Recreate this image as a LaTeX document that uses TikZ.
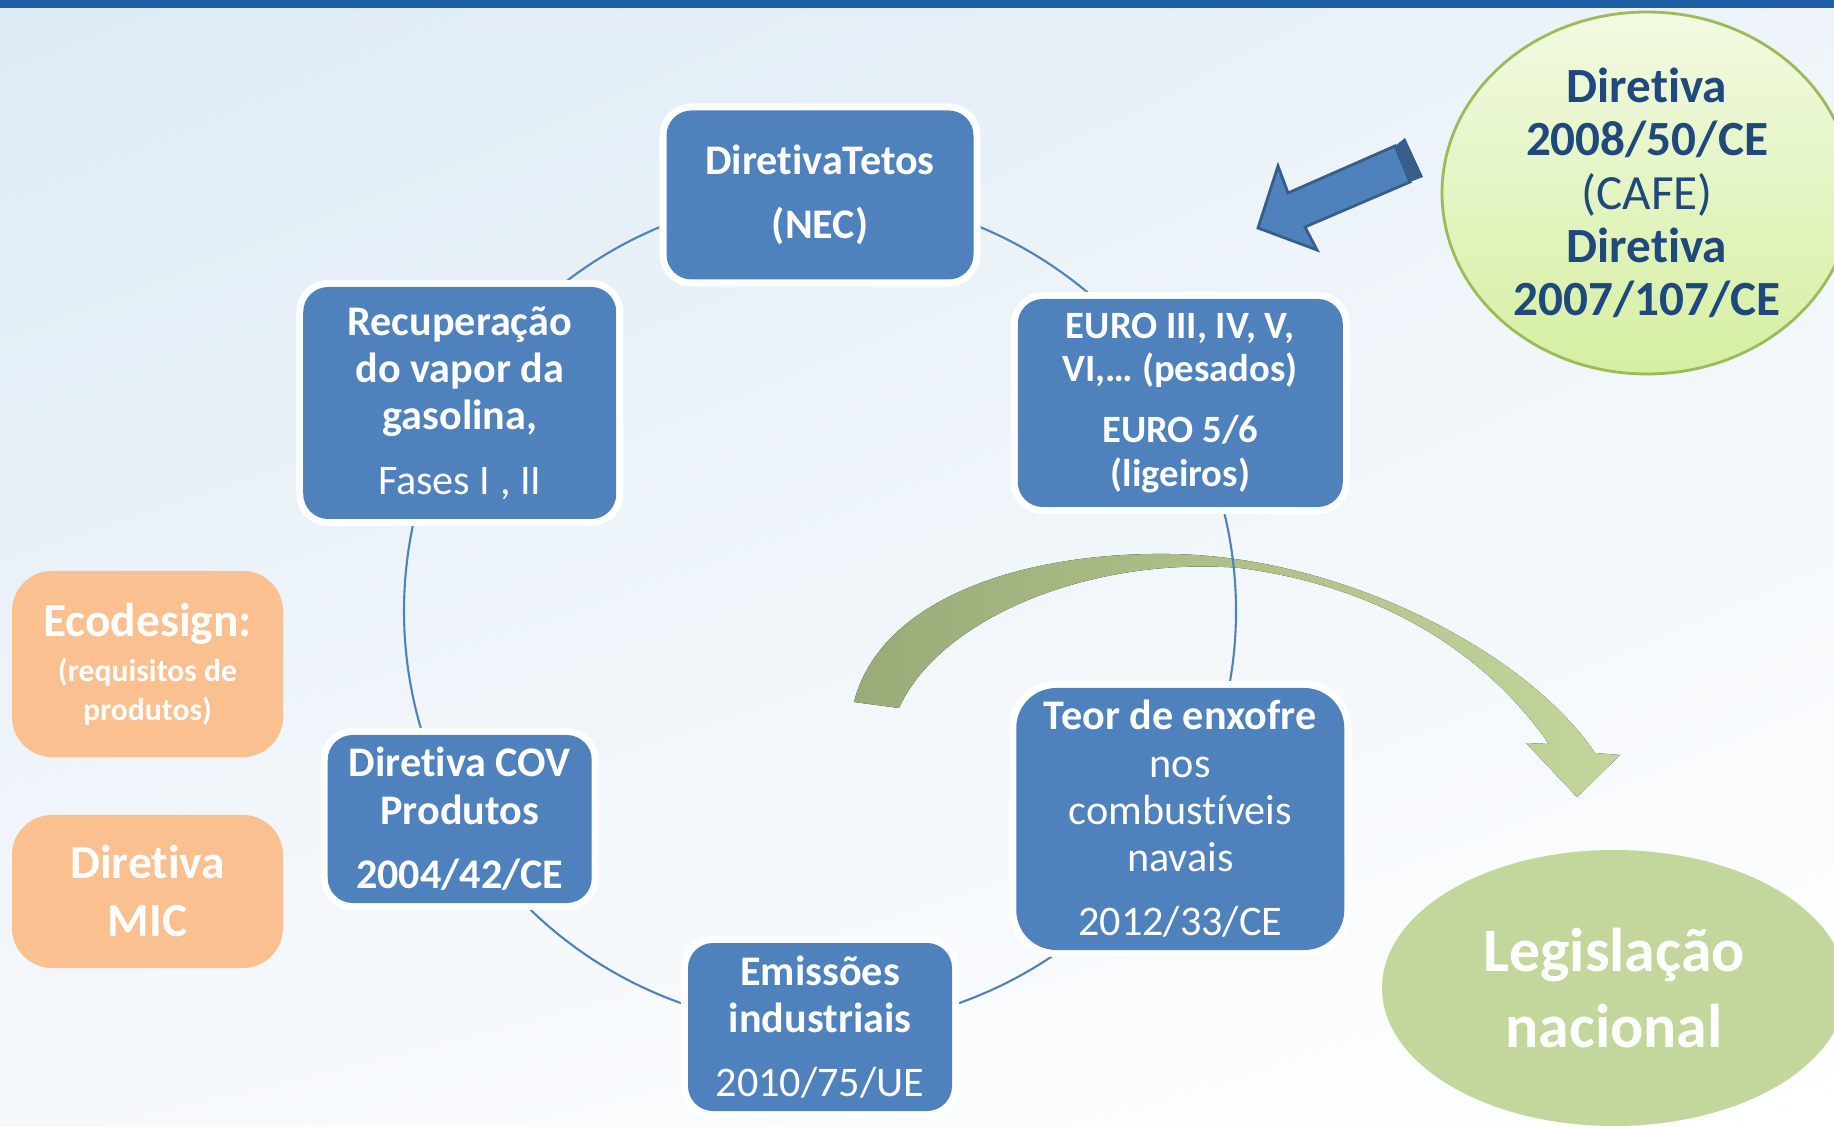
\documentclass[tikz,border=0pt]{standalone}
\usepackage{fontspec}
\setmainfont[Ligatures=NoCommon]{Carlito}
\usepackage{tikz}
\usetikzlibrary{calc, positioning, shapes, shadings}
\definecolor{azul}{HTML}{4F81BD}
\definecolor{azulesc}{HTML}{385D8A}
\definecolor{azultit}{HTML}{1F497D}
\definecolor{faixa}{HTML}{1F5FA5}
\definecolor{laranja}{HTML}{FAC090}
\definecolor{verde}{HTML}{C3D69B}
\definecolor{verdeesc}{HTML}{9BAB78}
\definecolor{verdeborda}{HTML}{9BBB59}
\definecolor{verdeclaro}{HTML}{F2FAE2}
\definecolor{verdemed}{HTML}{D6EFA2}
\definecolor{fundo1}{HTML}{DDEAF4}
\definecolor{fundo2}{HTML}{EEF4F9}
\definecolor{fundo3}{HTML}{F6F9FC}
\pgfdeclarelayer{fundo}
\pgfsetlayers{fundo,main}

\begin{document}
\begin{tikzpicture}[
	caixa/.style={rectangle, rounded corners=2.5mm, fill=azul, text=white, align=center, inner sep=0pt, preaction={draw=white, line width=4pt}, font=\fontsize{12}{13.4}\selectfont},
	negrito/.style={font=\bfseries\fontsize{12}{13.4}\selectfont},
	lateral/.style={rectangle, rounded corners=4mm, fill=laranja, text=white, align=center, inner sep=0pt, minimum width=2.71cm, font=\bfseries\fontsize{13.5}{16.5}\selectfont},
	ligacao/.style={azul, line width=0.6pt}]
	\useasboundingbox (0,0) rectangle (18.34,11.26);
	\clip (0,0) rectangle (18.34,11.26);

	%Fundo
	\begin{pgfonlayer}{fundo}
		\shade[upper left=fundo1, upper right=fundo2, lower left=fundo3, lower right=white] (0,0) rectangle (18.34,11.26);
		\fill[faixa] (0,11.18) rectangle (18.34,11.26);
		%Seta curva
		\fill[left color=verdeesc, right color=verde] (8.54,4.24) .. controls (8.80,5.26) and (10.20,5.74) .. (11.70,5.72) .. controls (13.40,5.70) and (15.25,4.76) .. (15.95,3.73) -- (16.20,3.71) -- (15.77,3.29) -- (15.26,3.83) -- (15.49,3.82) .. controls (14.80,4.81) and (13.70,5.41) .. (12.40,5.58) .. controls (10.90,5.70) and (9.40,5.08) .. (8.99,4.18) -- cycle;
	\end{pgfonlayer}

	%Ciclo
	\coordinate (centro) at (8.20,5.15);
	\node[caixa, negrito, minimum width=3.07cm, minimum height=1.69cm] (nec) at ($(centro)+(90:4.16)$) {DiretivaTetos\\[5pt] (NEC)};
	\node[caixa, minimum width=3.25cm, minimum height=2.08cm, font=\bfseries\fontsize{11}{12.3}\selectfont] (euro) at ($(centro)+(30:4.16)$) {EURO III, IV, V,\\ VI,… (pesados)\\[5pt] EURO 5/6\\ (ligeiros)};
	\node[caixa, minimum width=3.28cm, minimum height=2.62cm, rounded corners=4mm] (teor) at ($(centro)+(-30:4.16)$) {\textbf{Teor de enxofre}\\ nos\\ combustíveis\\ navais\\[5pt] 2012/33/CE};
	\node[caixa, negrito, minimum width=2.64cm, minimum height=1.68cm] (emis) at ($(centro)+(-90:4.16)$) {Emissões\\ industriais\\[5pt] \mdseries 2010/75/UE};
	\node[caixa, negrito, minimum width=2.64cm, minimum height=1.68cm] (cov) at ($(centro)+(-150:4.16)$) {Diretiva COV\\ Produtos\\[5pt] 2004/42/CE};
	\node[caixa, negrito, minimum width=3.13cm, minimum height=2.32cm] (recup) at ($(centro)+(150:4.16)$) {Recuperação\\ do vapor da\\ gasolina,\\[5pt] \mdseries Fases I , II};

	\begin{pgfonlayer}{fundo}
		\foreach \a/\b in {nec/90, euro/30, teor/-30, emis/-90, cov/-150, recup/150}
			\draw[ligacao] (\a.center) arc[start angle=\b, delta angle=-60, radius=4.16cm];
	\end{pgfonlayer}

	%Laterais
	\node[lateral, minimum height=1.86cm] (eco) at (1.475,4.62) {Ecodesign:\\[-3.5pt] \fontsize{9}{10.8}\selectfont (requisitos de\\[-5.6pt] \fontsize{9}{10.8}\selectfont produtos)};
	\node[lateral, minimum height=1.53cm] (mic) at (1.475,2.345) {Diretiva\\ MIC};

	%Diretivas CAFE
	\node[ellipse, draw=verdeborda, line width=0.8pt, top color=verdeclaro, bottom color=verdemed, text=azultit, align=center, minimum width=4.1cm, minimum height=3.62cm, inner sep=0pt, font=\bfseries\fontsize{14}{15.2}\selectfont] (cafe) at (16.47,9.33) {Diretiva\\ 2008/50/CE\\ \mdseries (CAFE)\\ Diretiva\\ 2007/107/CE};
	\fill[azulesc] (13.95,9.80) -- (14.05,9.88) -- (14.23,9.49) -- (14.10,9.44) -- cycle;
	\draw[azulesc, fill=azul, line width=0.8pt] (13.95,9.80) -- (12.88,9.33) -- (12.78,9.60) -- (12.58,8.98) -- (13.17,8.76) -- (13.05,8.99) -- (14.10,9.44) -- cycle;

	%Legislacao
	\node[ellipse, fill=verde, text=white, align=center, minimum width=4.64cm, minimum height=2.76cm, inner sep=0pt, font=\bfseries\fontsize{17.6}{21.6}\selectfont] (nacional) at (16.14,1.38) {Legislação\\ nacional};
\end{tikzpicture}
\end{document}
